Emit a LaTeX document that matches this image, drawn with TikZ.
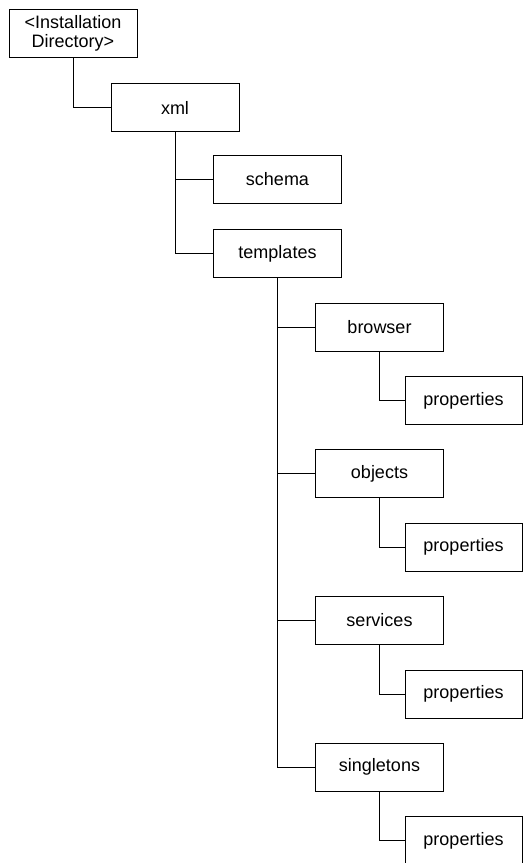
\documentclass[tikz,border=0pt]{standalone}
\usepackage{fontspec}
\setmainfont{Liberation Sans}
\usetikzlibrary{positioning}
\tikzset{
  folder/.style={draw,line width=0.5pt,minimum width=64pt,minimum height=24pt,inner sep=1pt,
    font=\fontsize{9}{9.5}\selectfont,align=center},
  leaf/.style={folder,minimum width=58.5pt},
  branch/.style={line width=0.5pt}
}
\begin{document}
\begin{tikzpicture}[x=0.5pt,y=-0.5pt]
  \useasboundingbox (0,0) rectangle (523,863);
  \clip (0,0) rectangle (523,863);
  \node[folder] (inst) at (73,33.5) {<Installation\\Directory>};
  \node[folder] (xml) at (175,107.5) {xml};
  \node[folder] (schema) at (277.5,179.5) {schema};
  \node[folder] (tmpl) at (277.5,253.5) {templates};
  \draw[branch] (inst.south) |- (xml.west);
  \draw[branch] (xml.south) |- (schema.west);
  \draw[branch] (xml.south) |- (tmpl.west);
  % one folder per template kind, each with its properties
  \foreach \name/\y in {browser/327,objects/473.5,services/620.5,singletons/767} {
    \node[folder] (\name) at (379.5,\y) {\name};
    \node[leaf] (\name-prop) at (463.5,\y+73.5) {properties};
    \draw[branch] (tmpl.south) |- (\name.west);
    \draw[branch] (\name.south) |- (\name-prop.west);
  }
\end{tikzpicture}
\end{document}
